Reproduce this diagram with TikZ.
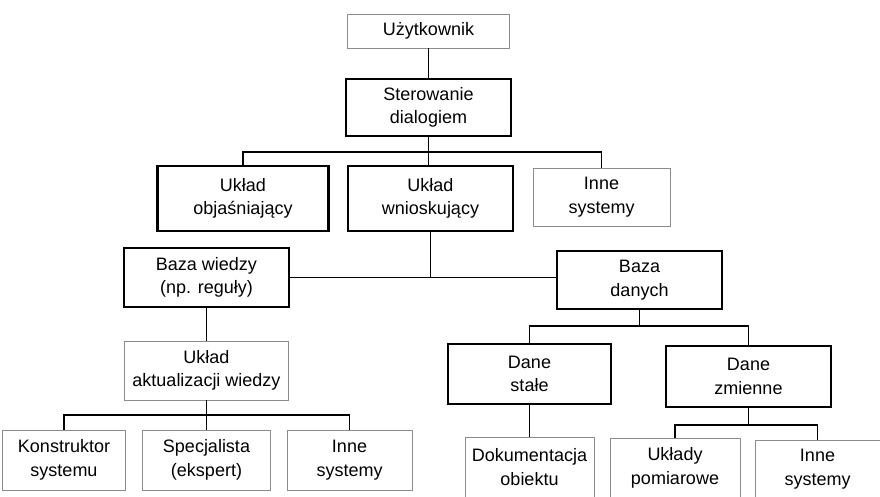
\documentclass[tikz,border=0pt]{standalone}
\usepackage{fontspec}
\setmainfont{Liberation Sans}
\usetikzlibrary{shadows}
\begin{document}
\begin{tikzpicture}[x=1pt,y=-1pt,
  every node/.style={align=center,inner sep=0pt,font=\fontsize{18}{23.5}\selectfont},
  thinbox/.style={draw=black!45,line width=0.9pt,fill=white},
  midbox/.style={draw=black,line width=1.3pt,fill=white},
  thickbox/.style={draw=black,line width=2.6pt,fill=white,
     drop shadow={shadow xshift=1.4pt,shadow yshift=-1.4pt,opacity=1,fill=black}},
  conn/.style={draw=black,line width=1.1pt}]
\fill[white] (0,0) rectangle (880,496);
\useasboundingbox (0,0) rectangle (880,496);
% nodes
\node[thinbox,minimum width=162pt,minimum height=34pt] (uzy) at (428.5,31) {Użytkownik};
\node[midbox,minimum width=165pt,minimum height=57pt] (ster) at (428.5,107.5) {Sterowanie\\dialogiem};
\node[thickbox,minimum width=171pt,minimum height=65pt] (obj) at (243,198.5) {Układ\\objaśniający};
\node[thickbox,minimum width=165pt,minimum height=65pt] (wnio) at (430.5,198.5) {Układ\\wnioskujący};
\node[thinbox,minimum width=137pt,minimum height=58pt] (inne1) at (601.5,197) {Inne\\systemy};
\node[thickbox,minimum width=165pt,minimum height=59pt] (bw) at (206.5,277.5) {Baza wiedzy\\(np. reguły)};
\node[thickbox,minimum width=165pt,minimum height=58pt] (bd) at (639.5,280) {Baza\\danych};
\node[thinbox,minimum width=164pt,minimum height=59pt] (akt) at (206.5,370.5) {Układ\\aktualizacji wiedzy};
\node[thinbox,minimum width=123pt,minimum height=60pt] (kon) at (64,460) {Konstruktor\\systemu};
\node[thinbox,minimum width=128pt,minimum height=60pt] (spec) at (206.5,460) {Specjalista\\(ekspert)};
\node[thinbox,minimum width=125pt,minimum height=60pt] (inne2) at (349.5,460) {Inne\\systemy};
\node[thickbox,minimum width=163pt,minimum height=60pt] (ds) at (529.5,374) {Dane\\stałe};
\node[thickbox,minimum width=165pt,minimum height=61pt] (dz) at (748.5,376.5) {Dane\\zmienne};
\node[thinbox,minimum width=129pt,minimum height=60pt] (dok) at (529.5,467) {Dokumentacja\\obiektu};
\node[thinbox,minimum width=130pt,minimum height=60pt] (uklp) at (675,468) {Układy\\pomiarowe};
\node[thinbox,minimum width=125pt,minimum height=58pt] (inne3) at (817.5,469) {Inne\\systemy};
% connectors
\coordinate (b1) at (428.5,152);
\coordinate (b2) at (206.5,415);
\coordinate (b3) at (639.5,326);
\coordinate (b4) at (748.5,425);
\draw[conn] (uzy.south) -- (ster.north);
\draw[conn] (ster.south) -- (b1);
\draw[conn] (obj.north) |- (b1) -| (inne1.north);
\draw[conn] (b1) -- (b1 |- wnio.north);
\draw[conn] (bw.east) -- (bd.west |- bw.east);
\draw[conn] (wnio.south) -- (wnio.south |- bw.east);
\draw[conn] (bw.south) -- (akt.north);
\draw[conn] (akt.south) -- (b2);
\draw[conn] (kon.north) |- (b2) -| (inne2.north);
\draw[conn] (b2) -- (spec.north);
\draw[conn] (bd.south) -- (b3);
\draw[conn] (ds.north) |- (b3) -| (dz.north);
\draw[conn] (ds.south) -- (dok.north);
\draw[conn] (dz.south) -- (b4);
\draw[conn] (uklp.north) |- (b4) -| (inne3.north);
\end{tikzpicture}
\end{document}
